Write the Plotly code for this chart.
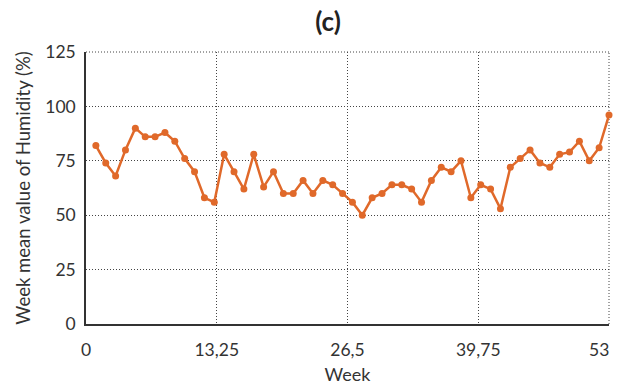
import plotly.graph_objects as go

# Weekly mean relative humidity (%)
weeks = list(range(1, 54))
humidity = [
    82, 74, 68, 80, 90, 86, 86, 88, 84, 76,
    70, 58, 56, 78, 70, 62, 78, 63, 70, 60,
    60, 66, 60, 66, 64, 60, 56, 50, 58, 60,
    64, 64, 62, 56, 66, 72, 70, 75, 58, 64,
    62, 53, 72, 76, 80, 74, 72, 78, 79, 84,
    75, 81, 96,
]

x_tick_vals = [0, 13.25, 26.5, 39.75, 53]
x_tick_text = ["0", "13,25", "26,5", "39,75", "53"]
y_tick_vals = [0, 25, 50, 75, 100, 125]

line_color = "#E0692A"
text_color = "#333333"
grid_color = "#444444"
font_family = "Lato, 'Noto Sans', sans-serif"
tick_font_size = 17.5

fig = go.Figure()
fig.add_trace(go.Scatter(
    x=weeks,
    y=humidity,
    mode="lines+markers",
    line=dict(color=line_color, width=2.5),
    marker=dict(color=line_color, size=7),
    cliponaxis=False,
    showlegend=False,
))

border = dict(color=grid_color, width=1, dash="1px,2px")

fig.update_layout(
    width=617,
    height=388,
    margin=dict(l=86, r=8, t=52, b=64),
    paper_bgcolor="white",
    plot_bgcolor="white",
    font=dict(family=font_family, size=tick_font_size, color=text_color),
    title=dict(
        text="<b>(c)</b>",
        x=328 / 617,
        xref="container",
        xanchor="center",
        y=1 - 22 / 388,
        yref="container",
        yanchor="middle",
        font=dict(size=26, color="#222222"),
    ),
    # dotted top and right borders of the plotting area
    shapes=[
        dict(type="line", xref="paper", yref="paper",
             x0=0, x1=1, y0=1, y1=1, line=border, layer="below"),
        dict(type="line", xref="paper", yref="paper",
             x0=1, x1=1, y0=0, y1=1, line=border, layer="below"),
    ],
    # the last x tick label is right-aligned to its tick so it stays inside the figure
    annotations=[dict(
        x=x_tick_vals[-1], xref="x", y=0, yref="paper",
        text=x_tick_text[-1], showarrow=False,
        xanchor="right", yanchor="middle", yshift=-25, xshift=2,
        font=dict(size=tick_font_size, color=text_color),
    )],
)

fig.update_xaxes(
    range=[0, 53],
    tickvals=x_tick_vals[:-1],
    ticktext=x_tick_text[:-1],
    showgrid=True,
    gridcolor=grid_color,
    gridwidth=1,
    griddash="1px,2px",
    showline=True,
    linecolor="#333333",
    linewidth=1.5,
    zeroline=False,
    ticks="outside",
    ticklen=9,
    tickcolor="rgba(0,0,0,0)",
    automargin=False,
    title=dict(text="Week", standoff=10, font=dict(size=18)),
)

fig.update_yaxes(
    range=[0, 125],
    tickvals=y_tick_vals,
    showgrid=True,
    gridcolor=grid_color,
    gridwidth=1,
    griddash="1px,2px",
    showline=True,
    linecolor="#333333",
    linewidth=1.5,
    zeroline=False,
    ticks="outside",
    ticklen=5,
    tickcolor="rgba(0,0,0,0)",
    automargin=False,
    title=dict(text="Week mean value of Humidity (%)", standoff=10, font=dict(size=18.5)),
)

fig.write_html("out.html")
